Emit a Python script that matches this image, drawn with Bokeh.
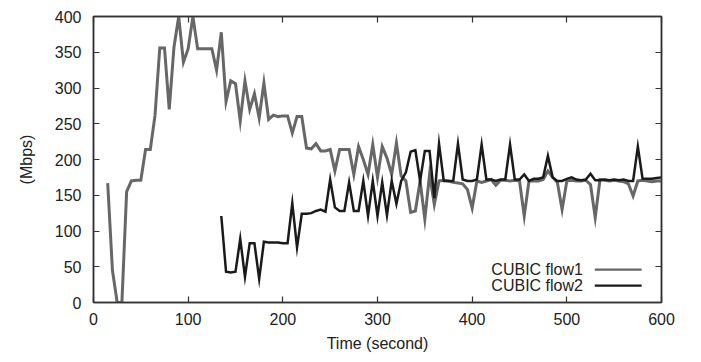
from bokeh.plotting import figure
from bokeh.models import Range1d, LinearAxis, FixedTicker, Label, BoxAnnotation
from bokeh.embed import file_html
from bokeh.resources import INLINE

# ---- data ----
flow1_start = 15
flow2_start = 135
step = 5
flow1 = [167, 45, 0, 0, 155, 170, 171, 171, 214, 214,
         262, 356, 356, 270, 357, 400, 336, 355, 400, 355,
         355, 355, 355, 325, 378, 281, 310, 306, 254, 310,
         270, 292, 258, 307, 256, 262, 260, 261, 261, 237,
         260, 260, 216, 215, 222, 212, 212, 214, 184, 214,
         214, 214, 179, 218, 200, 179, 221, 175, 218, 202,
         179, 223, 177, 170, 126, 128, 170, 117, 179, 137,
         170, 171, 170, 168, 167, 166, 158, 132, 170, 168,
         170, 172, 164, 171, 171, 170, 171, 170, 121, 170,
         170, 170, 172, 184, 175, 168, 130, 170, 171, 170,
         170, 171, 165, 119, 172, 171, 170, 171, 170, 169,
         166, 149, 170, 171, 170, 169, 170, 170]
flow2 = [121, 43, 42, 43, 89, 36, 83, 83, 33, 85,
         84, 84, 84, 83, 83, 139, 77, 124, 124, 125,
         128, 130, 127, 172, 133, 128, 128, 168, 128, 128,
         170, 121, 170, 121, 168, 122, 170, 138, 170, 182,
         211, 213, 170, 212, 212, 146, 222, 170, 170, 170,
         222, 172, 170, 170, 172, 221, 172, 172, 170, 172,
         172, 221, 172, 172, 179, 170, 173, 173, 175, 205,
         175, 170, 170, 173, 175, 172, 171, 172, 180, 171,
         171, 172, 171, 172, 171, 172, 170, 170, 218, 173,
         173, 173, 174, 175]
t1 = [flow1_start + step * i for i in range(len(flow1))]
t2 = [flow2_start + step * i for i in range(len(flow2))]
x_ticks = [0, 100, 200, 300, 400, 500, 600]
y_ticks = [0, 50, 100, 150, 200, 250, 300, 350, 400]
series_names = ["CUBIC flow1", "CUBIC flow2"]
series_colors = ["#676767", "#1a1a1a"]

FONT = "Liberation Sans"
FS = "16px"
AX = "#333333"

p = figure(width=693, height=354, output_backend="svg", toolbar_location=None,
           x_range=Range1d(0, 600), y_range=Range1d(0, 400),
           min_border_left=93, min_border_right=32, min_border_top=16,
           min_border_bottom=50)
p.grid.visible = False
p.background_fill_color = "white"
p.border_fill_color = "white"
p.outline_line_color = AX
p.outline_line_width = 1.5

p.line(t1, flow1, line_color=series_colors[0], line_width=3, line_join="miter")
p.line(t2, flow2, line_color=series_colors[1], line_width=2.5, line_join="miter")

def style(ax, ticks, labels=True):
    ax.ticker = FixedTicker(ticks=ticks)
    ax.major_tick_in = 6
    ax.major_tick_out = 0
    ax.minor_tick_line_color = None
    ax.axis_line_color = AX
    ax.axis_line_width = 1.5
    ax.major_tick_line_color = AX
    ax.major_tick_line_width = 1.2
    ax.major_label_text_font = FONT
    ax.major_label_text_font_size = FS if labels else "1px"
    ax.major_label_text_color = "#222222"
    ax.axis_label_text_font = FONT
    ax.axis_label_text_font_size = FS
    ax.axis_label_text_font_style = "normal"
    ax.axis_label_text_color = "#222222"
    if not labels:
        ax.major_label_overrides = {v: "" for v in ticks}
        ax.major_label_standoff = 0

style(p.xaxis[0], x_ticks)
p.xaxis[0].axis_label = "Time (second)"
p.xaxis[0].major_label_standoff = 10
p.xaxis[0].axis_label_standoff = 7
style(p.yaxis[0], y_ticks)
p.yaxis[0].axis_label = "(Mbps)"
p.yaxis[0].major_label_standoff = 12
p.yaxis[0].axis_label_standoff = 17

right = LinearAxis()
style(right, y_ticks, labels=False)
p.add_layout(right, "right")
top = LinearAxis()
style(top, x_ticks, labels=False)
p.add_layout(top, "above")

# legend (gnuplot style: text then sample)
leg_x_text = 517
leg_x0, leg_x1 = 529.5, 579
leg_y = [46, 23.5]
for name, col, yy in zip(series_names, series_colors, leg_y):
    p.add_layout(Label(x=leg_x_text, y=yy, text=name, text_align="right",
                       text_baseline="middle", text_font=FONT,
                       text_font_size=FS, text_color="#222222"))
    p.add_layout(BoxAnnotation(left=leg_x0, right=leg_x1, bottom=yy - 1.6,
                               top=yy + 1.6, fill_color=col, fill_alpha=1,
                               line_color=None))

open("out.html", "w").write(file_html(p, INLINE))
